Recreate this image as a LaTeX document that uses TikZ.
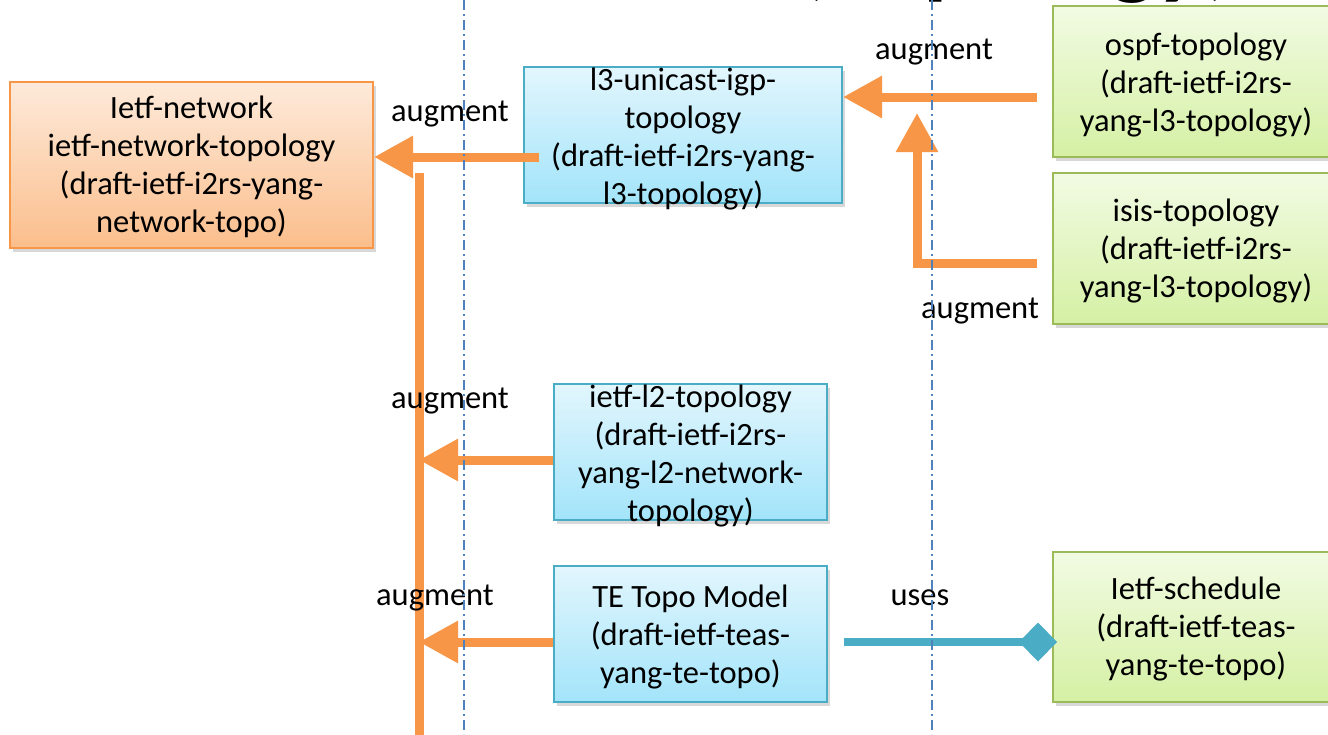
\documentclass[tikz,border=0pt]{standalone}
\usepackage{fontspec}
\setmainfont{Carlito}
\usetikzlibrary{arrows.meta,shadows,calc}
\definecolor{orln}{HTML}{F79646}
\definecolor{orTop}{HTML}{FDEADA}
\definecolor{orBot}{HTML}{FBBE8C}
\definecolor{blTop}{HTML}{E2F6FD}
\definecolor{blBot}{HTML}{A3E4FA}
\definecolor{blBd}{HTML}{4BACC6}
\definecolor{grTop}{HTML}{F2FBE3}
\definecolor{grBot}{HTML}{D5F0A4}
\definecolor{grBd}{HTML}{9BBB59}
\definecolor{teal}{HTML}{4BACC6}
\definecolor{dashc}{HTML}{4F81BD}
\tikzset{
  boxbase/.style={rectangle, inner sep=0pt, line width=2pt,
    drop shadow={shadow xshift=3pt, shadow yshift=-4pt, opacity=0.25, fill=black!60}},
  netbox/.style={boxbase, draw=orln, top color=orTop, bottom color=orBot},
  bluebox/.style={boxbase, draw=blBd, top color=blTop, bottom color=blBot},
  greenbox/.style={boxbase, draw=grBd, top color=grTop, bottom color=grBot},
  txt/.style={align=center, inner sep=0pt, font=\fontsize{32.5}{38}\selectfont},
  lbl/.style={inner sep=0pt, font=\fontsize{32.5}{38}\selectfont},
  aug/.style={draw=orln, line width=9pt, -{Triangle[length=39pt,width=40pt]}},
  busline/.style={draw=orln, line width=9pt},
  usesline/.style={draw=teal, line width=8pt, -{Diamond[length=38pt,width=39pt]}},
  dashdot/.style={draw=dashc, line width=1.5pt, dash pattern=on 10pt off 4pt on 2pt off 4pt}
}
\begin{document}
\begin{tikzpicture}[x=1pt,y=-1pt]
\path[use as bounding box, clip] (0,0) rectangle (1328,734);
\fill[white] (0,0) rectangle (1328,734);

% partial title at the top edge
\node[anchor=base west, inner sep=0pt, font=\fontsize{100}{100}\selectfont\bfseries] (title) at (797,-14) {(Topology)};

% boxes
\node[netbox, minimum width=363pt, minimum height=166pt] (net) at (191.5,165) {};
\node[bluebox, minimum width=318pt, minimum height=136pt] (l3) at (683,135) {};
\node[greenbox, minimum width=286pt, minimum height=151pt] (ospf) at (1196,81.5) {};
\node[greenbox, minimum width=286pt, minimum height=151pt] (isis) at (1196,248.5) {};
\node[bluebox, minimum width=273pt, minimum height=136pt] (l2) at (690.5,452) {};
\node[bluebox, minimum width=273pt, minimum height=136pt] (te) at (690.5,634) {};
\node[greenbox, minimum width=286pt, minimum height=150pt] (sched) at (1196,627) {};

% box texts
\node[txt] (nettxt) at ($(net.center)+(0,2)$) {Ietf-network\\ietf-network-topology\\(draft-ietf-i2rs-yang-\\network-topo)};
\node[txt] (l3txt) at ($(l3.center)+(0,4)$) {l3-unicast-igp-\\topology\\(draft-ietf-i2rs-yang-\\l3-topology)};
\node[txt] (ospftxt) at ($(ospf.center)+(0,4)$) {ospf-topology\\(draft-ietf-i2rs-\\yang-l3-topology)};
\node[txt] (isistxt) at ($(isis.center)+(0,3)$) {isis-topology\\(draft-ietf-i2rs-\\yang-l3-topology)};
\node[txt] (l2txt) at ($(l2.center)+(0,4)$) {ietf-l2-topology\\(draft-ietf-i2rs-\\yang-l2-network-\\topology)};
\node[txt] (tetxt) at ($(te.center)+(0,3)$) {TE Topo Model\\(draft-ietf-teas-\\yang-te-topo)};
\node[txt] (schedtxt) at ($(sched.center)+(0,2)$) {Ietf-schedule\\(draft-ietf-teas-\\yang-te-topo)};

% connector coordinates
\coordinate (s1) at ($(l3.west)+(16,22)$);
\coordinate (s2) at ($(ospf.west)+(-15,15.5)$);
\coordinate (s3) at ($(isis.west)+(-15,14.5)$);
\coordinate (isisUp) at (917,113);
\coordinate (busTop) at (419,173);
\coordinate (busBot) at (419,740);
\coordinate (s4) at ($(l2.west)+(0,8)$);
\coordinate (s5) at ($(te.west)+(0,8)$);
\coordinate (s6) at ($(te.east)+(16,8)$);
\coordinate (e6) at ($(sched.west)+(5,15)$);

% connectors
\draw[busline] (busTop) -- (busBot);
\draw[aug] (s1) -- (s1 -| net.east);
\draw[aug] (s2) -- (s2 -| l3.east);
\draw[aug] (s3) -| (isisUp);
\draw[aug] (s4) -- (s4 -| busTop);
\draw[aug] (s5) -- (s5 -| busTop);
\draw[usesline] (s6) -- (e6);

% labels
\node[lbl] (lab1) at (450,114) {augment};
\node[lbl] (lab2) at (934,52) {augment};
\node[lbl] (lab3) at (980,311) {augment};
\node[lbl] (lab4) at (450,401) {augment};
\node[lbl] (lab5) at (435,598) {augment};
\node[lbl] (lab6) at (920,598) {uses};

% dash-dot guide lines
\draw[dashdot] (464,0) -- (464,734);
\draw[dashdot] (932,0) -- (932,734);
\end{tikzpicture}
\end{document}
